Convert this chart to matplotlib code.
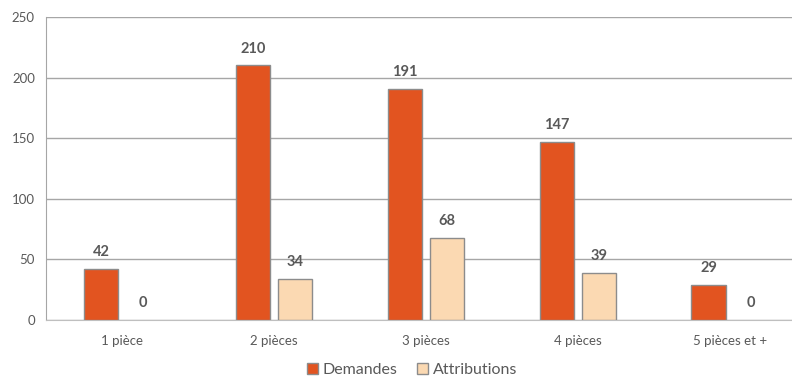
import numpy as np
import matplotlib.pyplot as plt
from matplotlib.patches import Patch

categories = ['1 pièce', '2 pièces', '3 pièces', '4 pièces', '5 pièces et +']
demandes = [42, 210, 191, 147, 29]
attributions = [0, 34, 68, 39, 0]

plt.rcParams['font.family'] = ['Lato', 'DejaVu Sans']

fig = plt.figure(figsize=(7.92, 3.78), dpi=100)
ax = fig.add_axes([46/792, 1-320/378, 1-46/792, (320-17)/378])

x = np.arange(len(categories))
w = 0.225
off = 0.139
b1 = ax.bar(x - off, demandes, w, color='#E25420', edgecolor='#8c8c8c', linewidth=1, zorder=3)
b2 = ax.bar(x + off, attributions, w, color='#FBD9B2', edgecolor='#8c8c8c', linewidth=1, zorder=3)
# pas de contour pour les barres nulles
for rect, v in zip(b2, attributions):
    if v == 0:
        rect.set_edgecolor('none')

for rect, v in zip(list(b1) + list(b2), demandes + attributions):
    ax.annotate(str(v), (rect.get_x() + rect.get_width()/2, v), xytext=(0, 7),
                textcoords='offset points', ha='center', va='bottom',
                fontsize=10.5, fontweight='bold', color='#595959')

ax.set_ylim(0, 250)
ax.set_xlim(-0.5, 4.41)
ax.set_yticks(range(0, 251, 50))
ax.yaxis.grid(True, color='#a6a6a6', linewidth=1, zorder=0)
ax.set_xticks(x)
ax.set_xticklabels(categories)
ax.tick_params(axis='both', length=0, labelsize=9.5, colors='#595959')
ax.tick_params(axis='x', pad=11)
ax.tick_params(axis='y', pad=8)
for s in ['top', 'right']:
    ax.spines[s].set_visible(False)
ax.spines['left'].set_color('#a6a6a6')
ax.spines['bottom'].set_color('#bfbfbf')

handles = [Patch(facecolor='#E25420', edgecolor='#8c8c8c', label='Demandes'),
           Patch(facecolor='#FBD9B2', edgecolor='#8c8c8c', label='Attributions')]
fig.legend(handles=handles, loc='lower center', bbox_to_anchor=(0.52, -0.035), ncol=2,
           frameon=False, fontsize=11.5, handlelength=0.7, handleheight=0.7,
           handletextpad=0.3, columnspacing=1.2, labelcolor='#595959')

fig.savefig('out.png', dpi=100)
